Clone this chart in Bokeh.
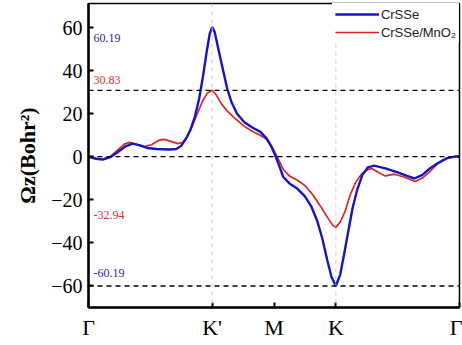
from bokeh.plotting import figure
from bokeh.models import Legend, LegendItem, Span, FixedTicker, Range1d
from bokeh.core.properties import value
from bokeh.embed import file_html
from bokeh.resources import INLINE

# High-symmetry path positions and labels
k_pos = [0, 2, 3, 4, 6]
k_labels = ["Γ", "K'", "M", "K", "Γ"]

# CrSSe (blue)
x_crsse = [0, 0.12, 0.23, 0.35, 0.47, 0.60, 0.71, 0.82, 0.95, 1.10, 1.30, 1.42, 1.50, 1.58,
           1.65, 1.72, 1.79, 1.85, 1.91, 1.96, 2.00, 2.04, 2.10, 2.17, 2.24, 2.31, 2.40, 2.52,
           2.65, 2.78, 2.88, 2.96, 3.02, 3.08, 3.15, 3.25, 3.38, 3.50, 3.60, 3.70, 3.78, 3.86,
           3.93, 4.00, 4.07, 4.13, 4.20, 4.27, 4.35, 4.43, 4.52, 4.62, 4.80, 5.00, 5.15, 5.27,
           5.40, 5.52, 5.65, 5.80, 5.92, 6.00]
y_crsse = [0, -1.0, -1.4, -0.3, 2.0, 4.8, 6.0, 5.3, 4.0, 3.5, 3.3, 3.5, 5.0, 8.5,
           12.5, 18.5, 27.0, 37.0, 48.5, 57.0, 60.19, 58.0, 50.0, 41.0, 32.0, 25.5, 20.0, 16.0,
           13.5, 11.5, 8.5, 4.5, 0.5, -4.0, -9.5, -12.5, -15.0, -18.5, -23.0, -30.0, -38.0, -48.0,
           -56.0, -60.19, -55.0, -46.0, -35.0, -24.0, -15.0, -8.5, -5.0, -4.2, -5.5, -7.4, -9.0, -10.2,
           -8.5, -5.5, -3.0, -0.7, 0, 0]

# CrSSe/MnO2 (red)
x_het = [0, 0.12, 0.23, 0.35, 0.47, 0.58, 0.66, 0.76, 0.90, 1.02, 1.13, 1.22, 1.32, 1.44,
         1.52, 1.60, 1.68, 1.76, 1.84, 1.92, 2.00, 2.07, 2.15, 2.25, 2.36, 2.50, 2.63, 2.77,
         2.88, 2.97, 3.05, 3.15, 3.25, 3.38, 3.50, 3.62, 3.75, 3.87, 3.95, 4.00, 4.07, 4.15,
         4.23, 4.32, 4.42, 4.52, 4.58, 4.70, 4.80, 4.95, 5.10, 5.28, 5.40, 5.50, 5.65, 5.80,
         5.92, 6.00]
y_het = [0, -0.8, -1.2, 0.0, 3.0, 5.8, 6.6, 5.8, 4.6, 5.5, 7.5, 8.0, 7.2, 6.0,
         6.5, 9.5, 14.5, 20.0, 25.5, 29.5, 30.83, 28.5, 24.5, 21.0, 18.0, 14.5, 12.0, 10.0,
         8.0, 4.5, 0.0, -6.0, -9.0, -11.0, -13.5, -17.5, -23.0, -28.5, -32.0, -32.94, -30.5, -25.5,
         -18.0, -12.0, -8.0, -6.0, -5.6, -7.5, -9.0, -8.2, -9.5, -11.6, -10.0, -7.5, -3.3, -0.8,
         0, 0]

# reference values
ref_lines = [30.83, 0, -60.19]
blue_marks = [60.19, -60.19]
red_marks = [30.83, -32.94]
y_ticks = [-60, -40, -20, 0, 20, 40, 60]

SERIF = "Liberation Serif"

p = figure(width=462, height=345, output_backend="svg", toolbar_location=None,
           x_range=Range1d(0, 6), y_range=Range1d(-70.2, 71.2),
           min_border_left=88, min_border_right=3, min_border_top=3, min_border_bottom=38)
p.background_fill_color = "white"
p.border_fill_color = "white"
p.outline_line_color = "black"
p.outline_line_width = 1.5
p.xgrid.visible = False
p.ygrid.visible = False

# vertical light dashed lines at K' and K
for xv in [k_pos[1], k_pos[3]]:
    p.add_layout(Span(location=xv, dimension="height", line_color="#cfcfcf",
                      line_dash="4 4", line_width=1))
# horizontal black dashed lines
for yv in ref_lines:
    p.add_layout(Span(location=yv, dimension="width", line_color="black",
                      line_dash="5 4", line_width=1.3))

r_het = p.line(x_het, y_het, line_color="#e02525", line_width=1.7)
r_crsse = p.line(x_crsse, y_crsse, line_color="#1515c8", line_width=2.4)

# value annotations
tf = value(SERIF)
p.text(x=[0], y=[blue_marks[0]], text=["60.19"], text_color="#2828b4", text_font=tf,
       text_font_size="12px", text_align="left", text_baseline="middle", x_offset=5, y_offset=11)
p.text(x=[0], y=[red_marks[0]], text=["30.83"], text_color="#d83030", text_font=tf,
       text_font_size="12px", text_align="left", text_baseline="middle", x_offset=5, y_offset=-10)
p.text(x=[0], y=[red_marks[1]], text=["-32.94"], text_color="#d83030", text_font=tf,
       text_font_size="12px", text_align="left", text_baseline="middle", x_offset=5, y_offset=-12)
p.text(x=[0], y=[blue_marks[1]], text=["-60.19"], text_color="#2828b4", text_font=tf,
       text_font_size="12px", text_align="left", text_baseline="middle", x_offset=5, y_offset=-13)

# axes
p.xaxis.ticker = FixedTicker(ticks=k_pos, minor_ticks=[])
p.xaxis.major_label_overrides = {k: lab for k, lab in zip(k_pos, k_labels)}
p.yaxis.ticker = FixedTicker(ticks=y_ticks, minor_ticks=[])
for ax in (p.xaxis[0], p.yaxis[0]):
    ax.axis_line_width = 2.5
    ax.axis_line_color = "black"
    ax.major_tick_in = 5
    ax.major_tick_out = 0
    ax.major_tick_line_width = 2
    ax.major_tick_line_color = "black"
    ax.minor_tick_line_color = None
    ax.major_label_text_font = SERIF
    ax.major_label_text_color = "black"
p.yaxis.major_label_text_font_size = "20px"
p.yaxis.major_label_standoff = 6
p.xaxis.major_label_text_font_size = "22px"
p.xaxis.major_label_standoff = 7
p.yaxis.axis_label = "Ωz(Bohr²)"
p.yaxis.axis_label_text_font = SERIF
p.yaxis.axis_label_text_font_style = "bold"
p.yaxis.axis_label_text_font_size = "22px"
p.yaxis.axis_label_text_color = "black"
p.yaxis.axis_label_standoff = 8

legend = Legend(items=[LegendItem(label="CrSSe", renderers=[r_crsse]),
                       LegendItem(label="CrSSe/MnO₂", renderers=[r_het])],
                location="top_right")
legend.label_text_font = "Liberation Sans"
legend.label_text_font_size = "13px"
legend.label_text_color = "#222222"
legend.glyph_width = 44
legend.glyph_height = 16
legend.label_standoff = 2
legend.label_height = 16
legend.spacing = 2
legend.padding = 3
legend.margin = 0
legend.border_line_alpha = 0
legend.background_fill_color = "white"
legend.background_fill_alpha = 1
p.add_layout(legend)

open("out.html", "w").write(file_html(p, INLINE))
